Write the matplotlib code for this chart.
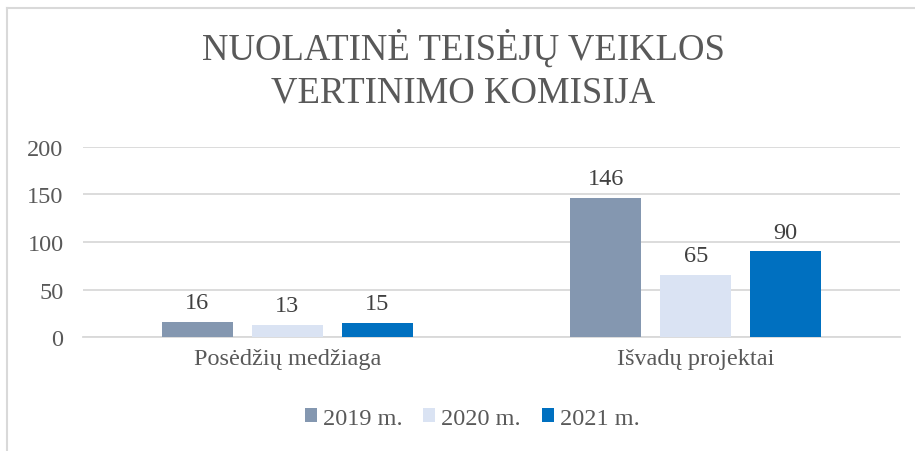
import matplotlib
matplotlib.use("Agg")
import matplotlib.pyplot as plt
import numpy as np
from matplotlib.lines import Line2D

categories = ["Posėdžių medžiaga", "Išvadų projektai"]
series_names = ["2019 m.", "2020 m.", "2021 m."]
values_2019 = [16, 146]
values_2020 = [13, 65]
values_2021 = [15, 90]
colors = ["#8497B0", "#DAE3F3", "#0070C0"]
yticks = [0, 50, 100, 150, 200]
title_lines = ["NUOLATINĖ TEISĖJŲ VEIKLOS", "VERTINIMO KOMISIJA"]

plt.rcParams['font.family'] = ['Liberation Serif', 'DejaVu Serif']
text_color = "#595959"
fs = 17.5

fig = plt.figure(figsize=(9.15, 4.52), dpi=100)
ax = fig.add_axes([0.0907, 0.2522, 0.8929, 0.4204])

x = np.arange(len(categories))
bw = 0.174
step = 0.22
all_vals = [values_2019, values_2020, values_2021]
for i, (vals, c, name) in enumerate(zip(all_vals, colors, series_names)):
    pos = x + (i - 1) * step
    bars = ax.bar(pos, vals, width=bw, color=c, label=name, zorder=3)
    for b, v in zip(bars, vals):
        ax.annotate(str(v), (b.get_x() + b.get_width() / 2, v), xytext=(0, 10),
                    textcoords='offset points', ha='center', va='baseline',
                    fontsize=fs, color="#404040")

ax.set_xlim(-0.5, 1.5)
ax.set_ylim(0, 200)
ax.set_yticks(yticks)
ax.set_yticklabels([str(t) for t in yticks], fontsize=fs, color=text_color)
ax.set_xticks(x)
ax.set_xticklabels(categories, fontsize=fs, color=text_color)
ax.tick_params(axis='both', length=0)
ax.tick_params(axis='y', pad=14)
ax.tick_params(axis='x', pad=8)
ax.grid(axis='y', color="#D9D9D9", linewidth=1.3, zorder=0)
for s in ['top', 'right', 'left']:
    ax.spines[s].set_visible(False)
ax.spines['bottom'].set_color("#D9D9D9")
ax.spines['bottom'].set_linewidth(1.3)

fig.text(0.506, 1 - 60 / 452, title_lines[0], ha='center', va='baseline',
         fontsize=26.5, color=text_color)
fig.text(0.506, 1 - 103 / 452, title_lines[1], ha='center', va='baseline',
         fontsize=26.5, color=text_color)

leg = fig.legend(loc='center', bbox_to_anchor=(0.516, 0.073), ncol=3, frameon=False,
                 fontsize=fs, handlelength=0.5, handleheight=0.5, handletextpad=0.25,
                 columnspacing=0.85)
for t in leg.get_texts():
    t.set_color(text_color)

# chart border
fig.add_artist(Line2D([7/915, 7/915], [0, 1 - 9/452], color="#D9D9D9", lw=1.5, transform=fig.transFigure))
fig.add_artist(Line2D([7/915, 1], [1 - 9/452, 1 - 9/452], color="#D9D9D9", lw=1.5, transform=fig.transFigure))

fig.savefig("out.png", dpi=100)
